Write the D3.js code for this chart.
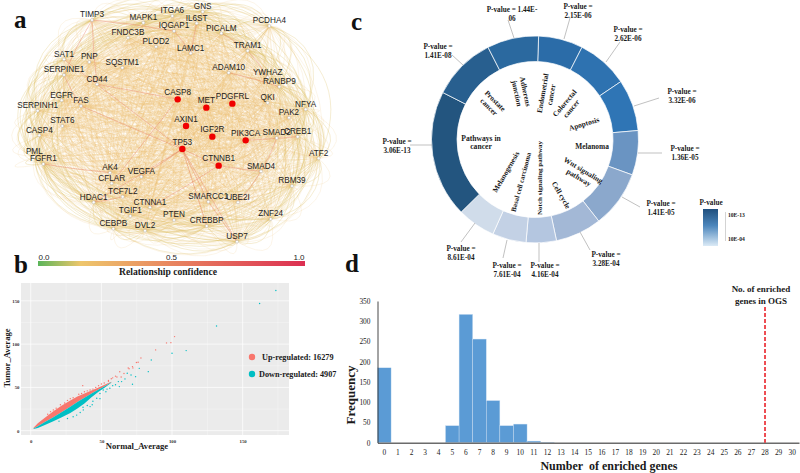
<!DOCTYPE html>
<html>
<head>
<meta charset="utf-8">
<script src="https://cdn.jsdelivr.net/npm/d3@7"></script>
<style>
  html, body { margin: 0; padding: 0; background: #fff; }
  svg { display: block; }
  .serif { font-family: "Liberation Serif", serif; font-weight: bold; fill: #1a1a1a; }
  .sans { font-family: "Liberation Sans", sans-serif; fill: #1c1c1c; }
</style>
</head>
<body>
<div id="chart"></div>
<script>
"use strict";

/* Panel a: network, node positions */
const nodeNames = ["GNS", "ITGA6", "IL6ST", "MAPK1", "TIMP3", "IQGAP1", "PICALM", "PCDHA4", "FNDC3B", "PLOD2",
  "LAMC1", "TRAM1", "SAT1", "PNP", "SQSTM1", "ADAM10", "YWHAZ", "SERPINE1", "CD44", "RANBP9",
  "EGFR", "FAS", "SERPINH1", "QKI", "NFYA", "PAK2", "STAT6", "CASP4", "PML", "FGFR1",
  "AK4", "CFLAR", "VEGFA", "HDAC1", "TCF7L2", "CTNNA1", "TGIF1", "CEBPB", "DVL2", "PTEN",
  "SMARCC1", "UBE2I", "CREBBP", "ZNF24", "USP7", "RBM39", "SMAD4", "ATF2", "CREB1", "SMAD2",
  "CASP8", "MET", "PDGFRL", "AXIN1", "IGF2R", "TP53", "CTNNB1", "PIK3CA"];
const nodeX = [608, 517, 590, 430, 276, 522, 664, 808, 384, 468,
  572, 743, 192, 268, 367, 686, 803, 192, 291, 838,
  185, 243, 113, 803, 917, 867, 187, 118, 103, 130,
  330, 335, 424, 281, 368, 450, 391, 340, 435, 522,
  625, 714, 620, 812, 711, 876, 783, 956, 893, 830,
  533, 619, 697, 558, 637, 547, 656, 737];
const nodeY = [35, 48, 70, 68, 60, 93, 100, 78, 113, 140,
  160, 152, 178, 186, 203, 218, 232, 225, 253, 260,
  301, 318, 332, 308, 328, 353, 378, 406, 470, 492,
  518, 550, 530, 607, 590, 622, 648, 686, 692, 660,
  605, 607, 678, 657, 725, 558, 514, 475, 410, 414,
  298, 323, 311, 378, 410, 447, 497, 421];
const hubNames = ["CASP8", "MET", "PDGFRL", "AXIN1", "IGF2R", "TP53", "CTNNB1", "PIK3CA"];

// nodes going round the outside of the network, clockwise
const ringNames = ["GNS", "PICALM", "PCDHA4", "TRAM1", "YWHAZ", "RANBP9", "NFYA", "CREB1", "ATF2", "RBM39",
  "ZNF24", "USP7", "CREBBP", "DVL2", "CEBPB", "HDAC1", "FGFR1", "PML", "CASP4", "SERPINH1",
  "EGFR", "SERPINE1", "SAT1", "TIMP3", "MAPK1", "ITGA6"];
const ringSteps = [1, 2, 3, 4, 5, 6, 7];

// the darker links that stand out
const strongLinks = [["TP53", "FAS"], ["TP53", "USP7"], ["TP53", "SMARCC1"], ["TP53", "CREBBP"], ["TP53", "HDAC1"],
  ["TP53", "CTNNB1"], ["TP53", "CD44"], ["CASP8", "CFLAR"], ["CASP8", "CD44"], ["PIK3CA", "CREB1"], ["SMAD2", "SMAD4"],
  ["TIMP3", "IQGAP1"], ["TIMP3", "CD44"], ["ADAM10", "RANBP9"], ["TRAM1", "YWHAZ"], ["FGFR1", "AK4"], ["CTNNB1", "SMAD4"],
  ["SAT1", "CD44"], ["LAMC1", "IQGAP1"], ["HDAC1", "TCF7L2"], ["SMARCC1", "USP7"], ["UBE2I", "SMAD4"], ["TIMP3", "SERPINE1"],
  ["IL6ST", "LAMC1"], ["SERPINE1", "FAS"], ["PICALM", "TRAM1"], ["CTNNA1", "CTNNB1"], ["VEGFA", "TP53"]];

const confidenceStops = [0, 0.16, 0.5, 1];
const confidenceColors = ["#5bb55a", "#eec66c", "#e8855f", "#dc2f52"];
const confidenceTicks = [0, 0.5, 1];

/* Panel b: scatter, dense band read as envelopes and the loose points on their own */
const bandX = [2, 5, 10, 16, 22, 28, 33, 38, 43, 48, 53, 57];
const bandUpTop = [3.5, 8.5, 15, 22.5, 29, 35, 39.5, 43, 46.5, 50, 53.5, 56.5];
const bandMiddle = [2.5, 5, 10, 15.5, 21.5, 27.5, 33, 38, 43, 47.5, 52, 56];
const bandDownLow = [2, 3, 6.5, 11, 15.5, 20.5, 25.5, 31.5, 38.5, 45, 50.5, 55.5];

const upPointsX = [101.8, 99.2, 96.1, 88.4, 78, 76, 74.8, 72, 72.3, 69, 69.6, 66, 63, 60, 57, 55, 52, 50, 36.8, 64,
  12, 14, 18, 21, 24, 26, 30, 34, 38, 40, 44, 46, 48, 55, 58, 61, 16, 28, 42, 36];
const upPointsY = [108.7, 101.7, 101.4, 93.3, 84, 79, 78.7, 74, 72.5, 72.5, 71.5, 66, 68, 63, 60, 58, 55, 54, 52, 62,
  19, 22, 26, 30, 32, 35, 38, 42, 45, 46, 48, 50, 52, 57, 61, 62, 24, 37, 47, 43];
const downPointsX = [173.5, 162, 131.5, 110, 100, 85.3, 83.2, 76.8, 74.2, 72, 71, 68.3, 66.7, 64.3, 42, 46.7, 51.3, 56, 62, 62.7,
  43.5, 37.2, 32.5, 49, 53.2, 49, 60, 30, 26, 20, 35, 40, 58, 44, 37, 54];
const downPointsY = [162, 147, 121, 92.5, 89.5, 81.7, 68.2, 72, 62.4, 53.6, 64.4, 66.4, 59.8, 56.7, 27.8, 37.4, 47, 49, 56.7, 50.9,
  30, 24, 18, 43, 45, 37, 53, 16, 14, 11, 21, 29, 52, 34, 27, 48];
const scatterTicks = [0, 50, 100, 150];
const scatterMinorTicks = [25, 75, 125, 175];
const scatterLegend = ["Up-regulated: 16279", "Down-regulated: 4907"];

/* Panel c: enrichment ring, slice sizes in degrees */
const pathwaySpans = [25, 29, 29, 25, 32, 26, 17, 19, 21.5, 71.5, 36, 29];
const pathwayColors = ["#2b6ca8", "#2e72b0", "#2f75b5", "#6a94c2", "#8ba8cc", "#a3b8d6",
  "#b4c6e0", "#c3d1e5", "#d0dcea", "#23557f", "#285f8f", "#2b699f"];
const pValueLines = [["P-value =", "2.15E-06"], ["P-value =", "2.62E-06"], ["P-value =", "3.32E-06"], ["P-value =", "1.36E-05"],
  ["P-value =", "1.41E-05"], ["P-value =", "3.28E-04"], ["P-value =", "4.16E-04"], ["P-value =", "7.61E-04"],
  ["P-value =", "8.61E-04"], ["P-value =", "3.06E-13"], ["P-value =", "1.41E-08"], ["P-value = 1.44E-", "06"]];
const innerLabelLines = [["Endometrial", "cancer"], ["Colorectal", "cancer"], ["Apoptosis"], ["Melanoma"],
  ["Wnt signaling", "pathway"], ["Cell cycle"], ["Notch signaling pathway"], ["Basal cell carcinoma"],
  ["Melanogenesis"], ["Pathways in", "cancer"], ["Prostate", "cancer"], ["Adherens", "junction"]];

/* Panel d: histogram */
const histBins = d3.range(0, 31);
const histCounts = [185, 0, 0, 0, 0, 42, 317, 256, 104, 42, 46, 4, 1, 0, 0, 0, 0, 0, 0, 0, 0, 0, 0, 0, 0, 0, 0, 0, 0, 0, 0];
const histYTicks = [0, 50, 100, 150, 200, 250, 300, 350];
const ogsValue = 28;

const svg = d3.select("#chart").append("svg")
  .attr("width", 800)
  .attr("height", 473);

/* ---- panel a ---- */
const netX = d3.scaleLinear().domain([0, 990]).range([0, 330]);
const netY = d3.scaleLinear().domain([0, 720]).range([0, 240]);
const nodes = nodeNames.map((name, i) => ({ name, x: netX(nodeX[i]), y: netY(nodeY[i]), hub: hubNames.includes(name) }));
const nodeByName = new Map(nodes.map(n => [n.name, n]));
const netCenter = { x: netX(525), y: netY(375) };

const confidence = d3.scaleLinear().domain(confidenceStops).range(confidenceColors);

// curve the link away from the middle of the network, by amount
function linkPath(a, b, amount) {
  const mx = (a.x + b.x) / 2;
  const my = (a.y + b.y) / 2;
  const cx = mx + (mx - netCenter.x) * amount;
  const cy = my + (my - netCenter.y) * amount;
  return `M${a.x},${a.y}Q${cx},${cy} ${b.x},${b.y}`;
}

const netG = svg.append("g");

// every pair gets a faint link, this is what makes the mesh
const meshLinks = d3.merge(nodes.map((a, i) => nodes.slice(i + 1).map(b => [a, b])));
netG.selectAll(".mesh")
  .data(meshLinks)
  .enter()
  .append("path")
  .attr("class", "mesh")
  .attr("d", d => linkPath(d[0], d[1], 0.35))
  .attr("fill", "none")
  .attr("stroke", confidence(0.22))
  .attr("stroke-opacity", 0.3)
  .attr("stroke-width", 0.5);

// outer loops between neighbours on the ring
const ringNodes = ringNames.map(n => nodeByName.get(n));
const ringLinks = [];
ringNodes.forEach((a, i) => {
  ringSteps.forEach(k => ringLinks.push([a, ringNodes[(i + k) % ringNodes.length], k]));
});
netG.selectAll(".ring")
  .data(ringLinks)
  .enter()
  .append("path")
  .attr("class", "ring")
  .attr("d", d => linkPath(d[0], d[1], 0.12 + d[2] * 0.07))
  .attr("fill", "none")
  .attr("stroke", confidence(0.14))
  .attr("stroke-opacity", 0.55)
  .attr("stroke-width", 0.55);

netG.selectAll(".strong")
  .data(strongLinks)
  .enter()
  .append("path")
  .attr("class", "strong")
  .attr("d", d => linkPath(nodeByName.get(d[0]), nodeByName.get(d[1]), 0.02))
  .attr("fill", "none")
  .attr("stroke", confidence(0.62))
  .attr("stroke-opacity", 0.6)
  .attr("stroke-width", 0.6);

netG.selectAll(".node")
  .data(nodes)
  .enter()
  .append("circle")
  .attr("class", "node")
  .attr("cx", d => d.x)
  .attr("cy", d => d.y)
  .attr("r", d => d.hub ? 3.2 : 1.5)
  .attr("fill", d => d.hub ? "#f00000" : "#fff")
  .attr("stroke", d => d.hub ? "none" : "#b5b5b5")
  .attr("stroke-width", 0.5);

netG.selectAll(".node-label")
  .data(nodes)
  .enter()
  .append("text")
  .attr("class", "sans node-label")
  .attr("x", d => d.x)
  .attr("y", d => d.y - (d.hub ? 4.5 : 2.8))
  .attr("text-anchor", "middle")
  .attr("font-size", 8.2)
  .text(d => d.name);

/* Big panel letters */
const panelLetters = [["a", 14, 28], ["b", 14, 273], ["c", 351, 30], ["d", 345, 272]];
svg.selectAll(".panel-letter")
  .data(panelLetters)
  .enter()
  .append("text")
  .attr("class", "serif panel-letter")
  .attr("x", d => d[1])
  .attr("y", d => d[2])
  .attr("font-size", 25)
  .style("fill", "#111")
  .text(d => d[0]);

/* confidence bar under the network */
const barScale = d3.scaleLinear().domain([0, 1]).range([38, 305]);
const defs = svg.append("defs");
const barGrad = defs.append("linearGradient").attr("id", "confGrad");
confidenceStops.forEach((s, i) => {
  barGrad.append("stop").attr("offset", s).attr("stop-color", confidenceColors[i]);
});
svg.append("rect")
  .attr("x", barScale(0))
  .attr("y", 261)
  .attr("width", barScale(1) - barScale(0))
  .attr("height", 5)
  .attr("fill", "url(#confGrad)");
const barLabelX = d3.scaleLinear().domain([0, 1]).range([44, 299]);
svg.selectAll(".conf-tick")
  .data(confidenceTicks)
  .enter()
  .append("text")
  .attr("class", "sans conf-tick")
  .attr("x", d => barLabelX(d))
  .attr("y", 260)
  .attr("text-anchor", "middle")
  .attr("font-size", 8)
  .text(d => d.toFixed(1));
svg.append("text")
  .attr("class", "serif")
  .attr("x", 168)
  .attr("y", 275)
  .attr("text-anchor", "middle")
  .attr("font-size", 9.6)
  .text("Relationship confidence");

/* ---- panel b ---- */
const sx = d3.scaleLinear().domain([-6.9, 182.8]).range([21, 289]);
const sy = d3.scaleLinear().domain([-5, 170.6]).range([435, 283]);

svg.append("rect")
  .attr("x", sx.range()[0])
  .attr("y", sy.range()[1])
  .attr("width", sx.range()[1] - sx.range()[0])
  .attr("height", sy.range()[0] - sy.range()[1])
  .attr("fill", "#ebebeb");

const grid = svg.append("g").attr("stroke", "#fff");
grid.selectAll(".vmajor").data(scatterTicks).enter().append("line")
  .attr("x1", d => sx(d)).attr("x2", d => sx(d))
  .attr("y1", sy.range()[0]).attr("y2", sy.range()[1]).attr("stroke-width", 0.7);
grid.selectAll(".hmajor").data(scatterTicks).enter().append("line")
  .attr("y1", d => sy(d)).attr("y2", d => sy(d))
  .attr("x1", sx.range()[0]).attr("x2", sx.range()[1]).attr("stroke-width", 0.7);
grid.selectAll(".vminor").data(scatterMinorTicks).enter().append("line")
  .attr("x1", d => sx(d)).attr("x2", d => sx(d))
  .attr("y1", sy.range()[0]).attr("y2", sy.range()[1]).attr("stroke-width", 0.3);
grid.selectAll(".hminor").data(scatterMinorTicks.slice(0, 3)).enter().append("line")
  .attr("y1", d => sy(d)).attr("y2", d => sy(d))
  .attr("x1", sx.range()[0]).attr("x2", sx.range()[1]).attr("stroke-width", 0.3);

const upColor = "#f8766d";
const downColor = "#00bfc4";
const bandArea = d3.area()
  .x(d => sx(d.x))
  .y0(d => sy(d.y0))
  .y1(d => sy(d.y1));
svg.append("path")
  .attr("d", bandArea(bandX.map((x, i) => ({ x, y0: bandMiddle[i], y1: bandUpTop[i] }))))
  .attr("fill", upColor);
svg.append("path")
  .attr("d", bandArea(bandX.map((x, i) => ({ x, y0: bandDownLow[i], y1: bandMiddle[i] }))))
  .attr("fill", downColor);

svg.selectAll(".up-pt")
  .data(upPointsX)
  .enter()
  .append("circle")
  .attr("class", "up-pt")
  .attr("cx", d => sx(d))
  .attr("cy", (d, i) => sy(upPointsY[i]))
  .attr("r", 0.7)
  .attr("fill", upColor);
svg.selectAll(".down-pt")
  .data(downPointsX)
  .enter()
  .append("circle")
  .attr("class", "down-pt")
  .attr("cx", d => sx(d))
  .attr("cy", (d, i) => sy(downPointsY[i]))
  .attr("r", 0.7)
  .attr("fill", downColor);

const sxAxis = svg.append("g")
  .attr("transform", "translate(0,435)")
  .call(d3.axisBottom(sx).tickValues(scatterTicks).tickSize(0).tickPadding(5));
const syAxis = svg.append("g")
  .attr("transform", "translate(21,0)")
  .call(d3.axisLeft(sy).tickValues(scatterTicks).tickSize(0).tickPadding(1.5));
[sxAxis, syAxis].forEach(ax => {
  ax.select(".domain").remove();
  ax.selectAll("text").attr("font-size", 4.8).attr("font-family", "Liberation Serif").attr("font-weight", "bold").attr("fill", "#333");
});

svg.append("text")
  .attr("class", "serif")
  .attr("x", 137)
  .attr("y", 449)
  .attr("text-anchor", "middle")
  .attr("font-size", 8.6)
  .text("Normal_Average");
svg.append("text")
  .attr("class", "serif")
  .attr("transform", "translate(10,358) rotate(-90)")
  .attr("text-anchor", "middle")
  .attr("font-size", 8.6)
  .text("Tumor_Average");

[upColor, downColor].forEach((c, i) => {
  svg.append("circle")
    .attr("cx", 252)
    .attr("cy", 357 + i * 17)
    .attr("r", 3.2)
    .attr("fill", c);
});
svg.selectAll(".scatter-legend")
  .data(scatterLegend)
  .enter()
  .append("text")
  .attr("class", "serif scatter-legend")
  .attr("x", (d, i) => i === 0 ? 262 : 259)
  .attr("y", (d, i) => 359.5 + i * 17)
  .attr("font-size", 8.2)
  .text(d => d);

/* ---- panel c ---- */
const ringCenter = [535, 139.5];
const ringG = svg.append("g").attr("transform", `translate(${ringCenter})`);
const pie = d3.pie()
  .sort(null)
  .value(d => d)
  .startAngle(2 * Math.PI / 180)
  .endAngle(362 * Math.PI / 180);
const arc = d3.arc().innerRadius(78).outerRadius(103.5);

// leader ends and label spots on the page, in slice order
const leaders = [[564, 39, 570, 18], [606, 62, 620, 42], [634, 106, 659, 98], [638, 153, 662, 153],
  [622, 197, 640, 207], [580, 232, 590, 250], [539, 243, 539, 262], [507, 240, 503, 258],
  [475, 223, 461, 242], [432, 145, 410, 145], [463, 65, 452, 55], [514, 38, 508, 20]];
const pLabelSpots = [[578, 9], [628, 32], [682, 94], [685, 151], [661, 206], [606, 257],
  [545, 268], [507, 268], [461, 251], [397, 144], [438, 49], [512, 12]];
// inner text: x, y, rotation, size for each slice
const innerLabelSpots = [[547, 94, -80, 7.4], [568, 106, -50, 7.4], [584, 124, -17, 7.4], [592, 147, 0, 7.4],
  [581, 174, 31, 7.4], [561, 195, 60, 7.4], [540, 178, -90, 7], [521, 182, -75, 7],
  [506, 172, -60, 7.4], [481, 142.5, 0, 7.6], [492, 104, 45, 7.4], [521, 92.5, 78, 7.4]];

ringG.selectAll(".slice")
  .data(pie(pathwaySpans))
  .enter()
  .append("path")
  .attr("class", "slice")
  .attr("d", arc)
  .attr("fill", (d, i) => pathwayColors[i])
  .attr("stroke", "#fff")
  .attr("stroke-width", 0.7);

svg.selectAll(".leader")
  .data(leaders)
  .enter()
  .append("line")
  .attr("class", "leader")
  .attr("x1", d => d[0]).attr("y1", d => d[1])
  .attr("x2", d => d[2]).attr("y2", d => d[3])
  .attr("stroke", "#a6a6a6")
  .attr("stroke-width", 0.7);

svg.selectAll(".p-label")
  .data(pValueLines)
  .enter()
  .append("text")
  .attr("class", "serif p-label")
  .attr("text-anchor", "middle")
  .attr("font-size", 7.2)
  .each(function (lines, i) {
    d3.select(this).selectAll("tspan")
      .data(lines)
      .enter()
      .append("tspan")
      .attr("x", pLabelSpots[i][0])
      .attr("y", (d, k) => pLabelSpots[i][1] + k * 8.7)
      .text(d => d);
  });

svg.selectAll(".inner-label")
  .data(innerLabelLines)
  .enter()
  .append("text")
  .attr("class", "serif inner-label")
  .attr("text-anchor", "middle")
  .attr("font-size", (d, i) => innerLabelSpots[i][3])
  .attr("transform", (d, i) => `translate(${innerLabelSpots[i][0]},${innerLabelSpots[i][1]}) rotate(${innerLabelSpots[i][2]})`)
  .each(function (lines) {
    d3.select(this).selectAll("tspan")
      .data(lines)
      .enter()
      .append("tspan")
      .attr("x", 0)
      .attr("y", (d, k) => (k - (lines.length - 1) / 2) * 8.7 + 2.4)
      .text(d => d);
  });

// P-value colour key
const keyGrad = defs.append("linearGradient").attr("id", "keyGrad").attr("x2", 0).attr("y2", 1);
keyGrad.append("stop").attr("offset", 0).attr("stop-color", "#1f4f7d");
keyGrad.append("stop").attr("offset", 0.45).attr("stop-color", "#4c86bc");
keyGrad.append("stop").attr("offset", 1).attr("stop-color", "#dbeaf6");
svg.append("rect")
  .attr("x", 703).attr("y", 209)
  .attr("width", 15).attr("height", 37)
  .attr("fill", "url(#keyGrad)");
svg.append("text")
  .attr("class", "serif")
  .attr("x", 711).attr("y", 205)
  .attr("text-anchor", "middle")
  .attr("font-size", 7.2)
  .text("P-value");
svg.append("line")
  .attr("x1", 725.5).attr("x2", 725.5)
  .attr("y1", 212).attr("y2", 241)
  .attr("stroke", "#b5b5b5")
  .attr("stroke-width", 0.6);
[["10E-13", 217], ["10E-04", 241]].forEach(d => {
  svg.append("text")
    .attr("class", "serif")
    .attr("x", 728).attr("y", d[1])
    .attr("font-size", 5.6)
    .text(d[0]);
});

/* ---- panel d ---- */
const hx = d3.scaleBand().domain(histBins).range([377.5, 799]).padding(0);
const hy = d3.scaleLinear().domain([0, 350]).range([442.7, 301]);

svg.selectAll(".hist-bar")
  .data(histBins)
  .enter()
  .append("rect")
  .attr("class", "hist-bar")
  .attr("x", d => hx(d))
  .attr("y", (d, i) => hy(histCounts[i]))
  .attr("width", hx.bandwidth())
  .attr("height", (d, i) => hy(0) - hy(histCounts[i]))
  .attr("fill", "#5b9bd5")
  .attr("stroke", "#cfe2f3")
  .attr("stroke-width", 0.4);

const hxAxis = svg.append("g")
  .attr("transform", `translate(0,${hy(0)})`)
  .call(d3.axisBottom(hx).tickSize(0).tickPadding(7.5));
const hyAxis = svg.append("g")
  .attr("transform", "translate(377.5,0)")
  .call(d3.axisLeft(hy).tickValues(histYTicks).tickSize(0).tickPadding(7));
hxAxis.select(".domain").attr("stroke", "#6b6b6b").attr("stroke-width", 1.6);
hyAxis.select(".domain").attr("stroke", "#333").attr("stroke-width", 0.9);
[hxAxis, hyAxis].forEach(ax => {
  ax.selectAll("text").attr("font-size", 7.4).attr("font-family", "Liberation Serif").attr("fill", "#222");
});

svg.append("line")
  .attr("x1", hx(ogsValue) + hx.bandwidth() / 2)
  .attr("x2", hx(ogsValue) + hx.bandwidth() / 2)
  .attr("y1", 307)
  .attr("y2", hy(0))
  .attr("stroke", "#e8141c")
  .attr("stroke-width", 1.5)
  .attr("stroke-dasharray", "4,2");

[["No. of enriched", 292], ["genes in OGS", 304]].forEach(d => {
  svg.append("text")
    .attr("class", "serif")
    .attr("x", 761).attr("y", d[1])
    .attr("text-anchor", "middle")
    .attr("font-size", 9)
    .text(d[0]);
});

svg.append("text")
  .attr("class", "serif")
  .attr("x", 609)
  .attr("y", 470)
  .attr("text-anchor", "middle")
  .attr("font-size", 12)
  .style("white-space", "pre")
  .text("Number  of enriched genes");
svg.append("text")
  .attr("class", "serif")
  .attr("transform", "translate(355,395) rotate(-90)")
  .attr("text-anchor", "middle")
  .attr("font-size", 13)
  .text("Frequency");
</script>
</body>
</html>
